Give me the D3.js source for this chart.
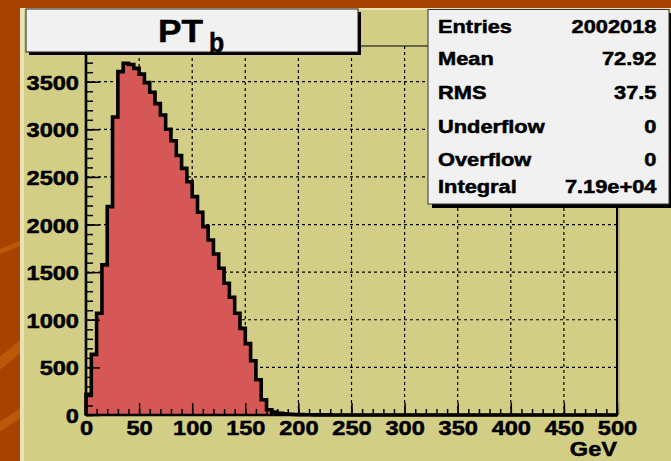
<!DOCTYPE html>
<html><head><meta charset="utf-8">
<script src="https://cdn.jsdelivr.net/npm/d3@7"></script>
<style>html,body{margin:0;padding:0;background:#a84200;overflow:hidden} svg{display:block}</style>
</head><body>
<svg id="c" width="671" height="461"></svg>
<script>
// ---- data (histogram PT_b, 100 bins of 5 GeV from 0 to 500) ----
const binWidth = 5;
const counts = [
  217, 637, 1068, 1576, 2188, 3130, 3606, 3694, 3680, 3640,
  3580, 3490, 3390, 3270, 3150, 3000, 2880, 2725, 2590, 2450,
  2293, 2129, 1978, 1838, 1691, 1541, 1383, 1236, 1068, 910,
  750, 570, 370, 160, 55, 30, 18, 12, 8, 5,
  4, 3, 2, 1, 1, 1, 0, 0, 0, 0,
  0, 0, 0, 0, 0, 0, 0, 0, 0, 0,
  0, 0, 0, 0, 0, 0, 0, 0, 0, 0,
  0, 0, 0, 0, 0, 0, 0, 0, 0, 0,
  0, 0, 0, 0, 0, 0, 0, 0, 0, 0,
  0, 0, 0, 0, 0, 0, 0, 0, 0, 0
];
const xTicks = [0, 50, 100, 150, 200, 250, 300, 350, 400, 450, 500];
const yTicks = [0, 500, 1000, 1500, 2000, 2500, 3000, 3500];
const xMinorTicks = d3.range(0, 501, 10);
const yMinorTicks = d3.range(0, 3801, 100);
const titleMain = "PT", titleSub = "b", xTitle = "GeV";
const statLabels = ["Entries", "Mean", "RMS", "Underflow", "Overflow", "Integral"];
const statValues = ["2002018", "72.92", "37.5", "0", "0", "7.19e+04"];

// ---- layout ----
const svg = d3.select("#c");
const FONT = "'Liberation Sans', Arial, Helvetica, sans-serif";
const x = d3.scaleLinear().domain([0, 500]).range([86, 617]);
const y = d3.scaleLinear().domain([0, 3875]).range([415, 46]);
const bold = sel => sel.attr("font-family", FONT).attr("font-weight", "bold").attr("fill", "#000")
  .attr("stroke", "#000").attr("stroke-width", 0.5);

// outer background with streaks
svg.append("rect").attr("width", 671).attr("height", 461).attr("fill", "#a84200");
const streaks = [[-20, 380, 40, 330, 10], [-20, 440, 40, 400, 8], [-20, 260, 40, 235, 5]];
streaks.forEach(s => svg.append("line").attr("x1", s[0]).attr("y1", s[1]).attr("x2", s[2]).attr("y2", s[3])
  .attr("stroke", "#c8680f").attr("stroke-width", s[4]).attr("opacity", 0.6));

// pad
svg.append("rect").attr("x", 20).attr("y", 8).attr("width", 660).attr("height", 460).attr("fill", "#d3ce86");
svg.append("rect").attr("x", 20).attr("y", 8).attr("width", 4).attr("height", 460).attr("fill", "#e7e3b6");
svg.append("rect").attr("x", 20).attr("y", 8).attr("width", 660).attr("height", 2).attr("fill", "#e7e3b6");

// grid
const g = svg.append("g");
g.selectAll(".vg").data(xTicks.filter(d => d > 0 && d < 500)).enter().append("line")
  .attr("x1", d => x(d)).attr("x2", d => x(d)).attr("y1", y.range()[0]).attr("y2", y.range()[1])
  .attr("stroke", "#000").attr("stroke-width", 1.2).attr("stroke-dasharray", "3,3");
g.selectAll(".hg").data(yTicks.filter(d => d > 0)).enter().append("line")
  .attr("y1", d => y(d)).attr("y2", d => y(d)).attr("x1", x(0)).attr("x2", x(500))
  .attr("stroke", "#000").attr("stroke-width", 1.2).attr("stroke-dasharray", "3,3");

// histogram
const pts = [[0, 0]].concat(counts.map((c, i) => [i * binWidth, c]));
pts.push([counts.length * binWidth, counts[counts.length - 1]]);
pts.push([counts.length * binWidth, 0]);
const area = d3.area().curve(d3.curveStepAfter).x(d => x(d[0])).y0(y(0)).y1(d => y(d[1]));
const line = d3.line().curve(d3.curveStepAfter).x(d => x(d[0])).y(d => y(d[1]));
svg.append("path").attr("d", area(pts)).attr("fill", "#d65856");
svg.append("path").attr("d", line(pts)).attr("fill", "none").attr("stroke", "#000")
  .attr("stroke-width", 3.6).attr("stroke-linejoin", "miter");

// frame top / right
svg.append("line").attr("x1", x(0)).attr("x2", x(500)).attr("y1", y.range()[1]).attr("y2", y.range()[1])
  .attr("stroke", "#000").attr("stroke-width", 1.2);
svg.append("line").attr("x1", x(500)).attr("x2", x(500)).attr("y1", y.range()[1]).attr("y2", y(0))
  .attr("stroke", "#000").attr("stroke-width", 2);
svg.append("line").attr("x1", x(500) + 2).attr("x2", x(500) + 2).attr("y1", y.range()[1]).attr("y2", y(0))
  .attr("stroke", "#a9a45a").attr("stroke-width", 1.2);

// axes
const SX = 1.18;
const xMinorAxis = d3.axisBottom(x).tickValues(xMinorTicks).tickSize(-6).tickFormat("");
const xMinorG = svg.append("g").attr("transform", `translate(0,${y(0)})`).call(xMinorAxis);
const xAxis = d3.axisBottom(x).tickValues(xTicks).tickSize(-12).tickPadding(4).tickFormat(d3.format("d"));
const xG = svg.append("g").attr("transform", `translate(0,${y(0)})`).call(xAxis);
const yMinorAxis = d3.axisLeft(y).tickValues(yMinorTicks.filter(v => v <= 3800)).tickSize(-7).tickFormat("");
const yMinorG = svg.append("g").attr("transform", `translate(${x(0)},0)`).call(yMinorAxis);
const yAxis = d3.axisLeft(y).tickValues(yTicks).tickSize(-14).tickFormat(d3.format("d"));
const yG = svg.append("g").attr("transform", `translate(${x(0)},0)`).call(yAxis);
[xMinorG, xG, yMinorG, yG].forEach(a => {
  a.select(".domain").remove();
  a.selectAll(".tick line").attr("stroke", "#000").attr("stroke-width", 1.5);
});
xG.selectAll(".tick text").call(bold).attr("font-size", 20)
  .attr("y", 20).attr("dy", 0).attr("transform", `scale(${SX},1)`);
yG.selectAll(".tick text").call(bold).attr("font-size", 20)
  .attr("x", -7 / SX).attr("dy", 0).attr("y", 7.5).attr("transform", `scale(${SX},1)`);

svg.append("line").attr("x1", x(0)).attr("x2", x(500) + 1).attr("y1", y(0)).attr("y2", y(0))
  .attr("stroke", "#000").attr("stroke-width", 2.6);
svg.append("line").attr("x1", x(0)).attr("x2", x(0)).attr("y1", y.range()[1]).attr("y2", y(0) + 1)
  .attr("stroke", "#000").attr("stroke-width", 2.6);

svg.append("text").attr("transform", `translate(${x(500)},455.5) scale(${SX},1)`)
  .attr("text-anchor", "end").call(bold).attr("font-size", 20).text(xTitle);

// title box
svg.append("rect").attr("x", 29).attr("y", 12).attr("width", 332).attr("height", 43).attr("fill", "#000");
svg.append("rect").attr("x", 26).attr("y", 9).attr("width", 332).attr("height", 43)
  .attr("fill", "#f1f1f1").attr("stroke", "#222").attr("stroke-width", 1);
svg.append("text").attr("transform", "translate(158,41.5) scale(1.1,1)")
  .call(bold).attr("font-size", 32).text(titleMain);
svg.append("text").attr("transform", "translate(209,51.5) scale(0.92,1)")
  .call(bold).attr("font-size", 27).text(titleSub);

// stats box
svg.append("rect").attr("x", 432).attr("y", 13).attr("width", 241).attr("height", 195).attr("fill", "#000");
svg.append("rect").attr("x", 428).attr("y", 9.5).attr("width", 241).attr("height", 194.5)
  .attr("fill", "#f1f1f1").attr("stroke", "#333").attr("stroke-width", 1);
const statBase = [33, 65, 99, 133, 165.5, 193];
statLabels.forEach((s, i) => {
  svg.append("text").attr("transform", `translate(438,${statBase[i]}) scale(${SX},1)`)
    .call(bold).attr("font-size", 18.5).text(s);
  svg.append("text").attr("transform", `translate(656.5,${statBase[i]}) scale(${SX},1)`)
    .attr("text-anchor", "end").call(bold).attr("font-size", 18.5).text(statValues[i]);
});
</script>
</body></html>
